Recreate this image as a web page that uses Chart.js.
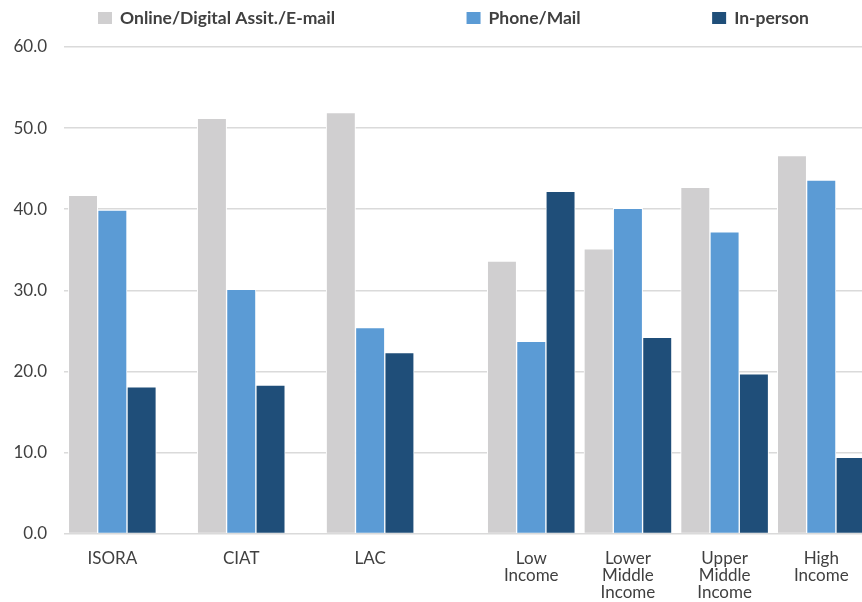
<!DOCTYPE html>
<html>
<head>
<meta charset="utf-8">
<script src="https://cdn.jsdelivr.net/npm/chart.js@4"></script>
<style>
    body { margin: 0; background: #fff; overflow: hidden; }
    #wrap { position: relative; width: 870px; height: 602px; }
</style>
</head>
<body>
<div id="wrap"><canvas id="myChart"></canvas></div>
<script>
// categories and values (percent of respondents)
const categories = ['ISORA', 'CIAT', 'LAC', ['Low', 'Income'], ['Lower', 'Middle', 'Income'], ['Upper', 'Middle', 'Income'], ['High', 'Income']];
const seriesNames = ['Online/Digital Assit./E-mail', 'Phone/Mail', 'In-person'];
const online = [41.7, 51.2, 51.9, 33.6, 35.1, 42.7, 46.6];
const phone = [39.9, 30.1, 25.4, 23.7, 40.1, 37.2, 43.6];
const inPerson = [18.1, 18.3, 22.3, 42.2, 24.2, 19.7, 9.4];
const yTicks = [0, 10, 20, 30, 40, 50, 60];

const colors = ['#D0CFD0', '#5B9BD5', '#1F4E79'];
const textColor = '#404040';
const fontFamily = 'Lato, "Open Sans", sans-serif';

// the x axis is a row of narrow slots; each group sits in one slot,
// regional groups are spaced wider than the income groups
const SLOTS = 25;
const slotOf = [1, 5, 9, 14, 17, 20, 23];

function spread(values, blank) {
    let out = new Array(SLOTS).fill(blank);
    slotOf.forEach((s, i) => { out[s] = values[i]; });
    return out;
}

const labels = spread(categories, '');

/*========================================
 * legend row drawn above the plot
 *========================================*/
const legendRow = {
    id: 'legendRow',
    afterDraw(chart) {
        const ctx = chart.ctx;
        const gap = 131.5;
        const center = 453.5;
        ctx.save();
        ctx.font = 'bold 17.5px ' + fontFamily;
        ctx.textBaseline = 'middle';
        let items = chart.data.datasets.map(ds => ({
            text: ds.label,
            color: ds.backgroundColor,
            w: 14 + 8 + ctx.measureText(ds.label).width
        }));
        let total = items.reduce((s, it) => s + it.w, 0) + gap * (items.length - 1);
        let x = center - total / 2;
        items.forEach(it => {
            ctx.fillStyle = it.color;
            ctx.fillRect(x, 12, 14, 12);
            ctx.fillStyle = textColor;
            ctx.fillText(it.text, x + 22, 18.5);
            x += it.w + gap;
        });
        ctx.restore();
    }
};

const ctx = document.getElementById('myChart').getContext('2d');

function makeSet(name, values, color) {
    return {
        label: name,
        data: spread(values, null),
        backgroundColor: color,
        borderColor: '#ffffff',
        borderWidth: 1,
        barThickness: 29.3
    };
}

const data = {
    labels: labels,
    datasets: [
        makeSet(seriesNames[0], online, colors[0]),
        makeSet(seriesNames[1], phone, colors[1]),
        makeSet(seriesNames[2], inPerson, colors[2])
    ]
};

const options = {
    responsive: true,
    maintainAspectRatio: false,
    animation: false,
    layout: {
        padding: { top: 47, bottom: 1, left: 0, right: 0 }
    },
    plugins: {
        legend: { display: false },
        tooltip: { enabled: false }
    },
    scales: {
        x: {
            afterFit: scale => { scale.height = 67.5; },
            grid: { display: false, drawTicks: false },
            border: { display: false },
            ticks: {
                autoSkip: false,
                maxRotation: 0,
                minRotation: 0,
                padding: 16.5,
                color: textColor,
                font: { family: fontFamily, size: 17, lineHeight: 1 }
            }
        },
        y: {
            min: yTicks[0],
            max: yTicks[yTicks.length - 1],
            afterFit: scale => { scale.width = 64; },
            afterBuildTicks: scale => { scale.ticks = yTicks.map(v => ({ value: v })); },
            grid: { color: '#DADADA', lineWidth: 1.5, drawTicks: false },
            border: { display: false },
            ticks: {
                padding: 17,
                color: textColor,
                font: { family: fontFamily, size: 17 },
                callback: v => v.toFixed(1)
            }
        }
    }
};

let config = {
    type: 'bar',
    data: data,
    options: options,
    plugins: [legendRow]
};

let graph = new Chart(ctx, config);
</script>
</body>
</html>
